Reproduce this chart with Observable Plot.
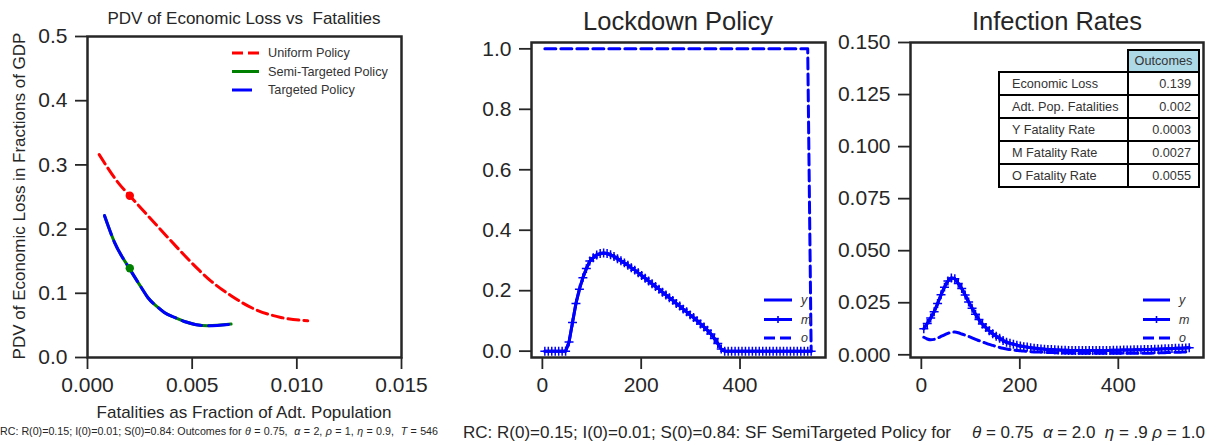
<!DOCTYPE html>
<html><head><meta charset="utf-8">
<script src="https://cdn.jsdelivr.net/npm/d3@7"></script>
<script src="https://cdn.jsdelivr.net/npm/@observablehq/plot@0.6"></script>
<style>
body{margin:0;background:#fff;}
#root{position:relative;width:1229px;height:445px;overflow:hidden;font-family:"Liberation Sans",Arial,sans-serif;color:#262626;background:#fff;}
.abs{position:absolute;white-space:pre;line-height:1;}
.c{transform:translate(-50%,-50%);}
#tbl{position:absolute;left:998px;top:49px;border-collapse:collapse;font-size:12.7px;color:#333;}
#tbl td{height:21px;padding:0;box-sizing:border-box;white-space:nowrap;}
#tbl td.lab{border:2px solid #000;width:129px;padding-left:12px;text-align:left;}
#tbl td.val{border:2px solid #000;width:71px;padding-right:7px;text-align:right;}
#tbl td.hdr{border:2px solid #000;background:#add8e6;text-align:center;}
</style></head>
<body><div id="root"></div>
<script>
// ---------- Data ----------
// Panel 1: PDV of economic loss vs fatalities
const uniformFatalities = [0.00056, 0.00151, 0.00202, 0.00326, 0.00422, 0.00533, 0.0059, 0.00686, 0.00797, 0.00924, 0.01052];
const uniformLoss       = [0.316,   0.2705,  0.252,   0.2075,  0.1735,  0.136,   0.119,  0.0962,  0.0755,  0.0624,  0.0572];
const semiFatalities = [0.00081, 0.00129, 0.002,  0.00257, 0.00288, 0.00337, 0.00367, 0.00416, 0.00463, 0.00574, 0.00686];
const semiLoss       = [0.221,   0.1793,  0.1388, 0.109,   0.0935,  0.078,   0.0702,  0.0624,  0.0561,  0.0494,  0.052];
const targetedFatalities = [0.00081, 0.00129, 0.002,  0.00257, 0.00288, 0.00337, 0.00367, 0.00416, 0.00463, 0.00574, 0.00686];
const targetedLoss       = [0.221,   0.1793,  0.1388, 0.109,   0.0935,  0.078,   0.0702,  0.0624,  0.0561,  0.0494,  0.052];
const chosenUniform = [0.00202, 0.252];
const chosenSemi = [0.00202, 0.139];
const policyNames = ["Uniform Policy", "Semi-Targeted Policy", "Targeted Policy"];

// Panels 2 & 3: time series (days)
const days = [5,12,19,26,33,40,47,54,61,68,75,82,89,96,103,110,117,124,131,138,145,152,159,166,173,180,187,194,201,208,215,222,229,236,243,250,257,264,271,278,285,292,299,306,313,320,327,334,341,348,355,362,369,376,383,390,397,404,411,418,425,432,439,446,453,460,467,474,481,488,495,502,509,516,523,530,537,544];
const lockdownM = [0,0,0,0,0,0,0,0.03,0.095,0.158,0.205,0.243,0.273,0.298,0.309,0.318,0.323,0.325,0.323,0.319,0.313,0.306,0.299,0.292,0.284,0.276,0.268,0.259,0.250,0.241,0.232,0.223,0.214,0.205,0.195,0.186,0.177,0.168,0.158,0.149,0.139,0.130,0.120,0.111,0.101,0.090,0.080,0.069,0.057,0.042,0.025,0.007,0,0,0,0,0,0,0,0,0,0,0,0,0,0,0,0,0,0,0,0,0,0,0,0,0,0];
const lockdownY = [0,0,0,0,0,0,0,0.03,0.095,0.158,0.205,0.243,0.273,0.298,0.309,0.318,0.323,0.325,0.323,0.319,0.313,0.306,0.299,0.292,0.284,0.276,0.268,0.259,0.250,0.241,0.232,0.223,0.214,0.205,0.195,0.186,0.177,0.168,0.158,0.149,0.139,0.130,0.120,0.111,0.101,0.090,0.080,0.069,0.057,0.042,0.025,0.007,0,0,0,0,0,0,0,0,0,0,0,0,0,0,0,0,0,0,0,0,0,0,0,0,0,0];
const lockdownO = [1,1,1,1,1,1,1,1,1,1,1,1,1,1,1,1,1,1,1,1,1,1,1,1,1,1,1,1,1,1,1,1,1,1,1,1,1,1,1,1,1,1,1,1,1,1,1,1,1,1,1,1,1,1,1,1,1,1,1,1,1,1,1,1,1,1,1,1,1,1,1,1,1,1,1,1,1,0];
const infectM = [0.0125,0.0150,0.0177,0.0207,0.0246,0.0288,0.0325,0.0354,0.0369,0.0365,0.0343,0.0318,0.0287,0.0254,0.0224,0.0195,0.0169,0.0148,0.0131,0.0115,0.0101,0.0089,0.0079,0.0069,0.0060,0.0055,0.0051,0.0046,0.0042,0.0039,0.0037,0.0034,0.0032,0.0030,0.0028,0.0027,0.0026,0.0025,0.0024,0.0023,0.0022,0.0022,0.0021,0.0021,0.0021,0.0021,0.0021,0.0021,0.0021,0.0021,0.0021,0.0021,0.0021,0.0021,0.0021,0.0022,0.0022,0.0022,0.0023,0.0023,0.0023,0.0024,0.0024,0.0024,0.0025,0.0025,0.0026,0.0027,0.0027,0.0028,0.0029,0.0029,0.0030,0.0031,0.0032,0.0032,0.0033,0.0034];
const infectY = [0.0125,0.0150,0.0177,0.0207,0.0246,0.0288,0.0325,0.0354,0.0369,0.0365,0.0343,0.0318,0.0287,0.0254,0.0224,0.0195,0.0169,0.0148,0.0131,0.0115,0.0101,0.0089,0.0079,0.0069,0.0060,0.0055,0.0051,0.0046,0.0042,0.0039,0.0037,0.0034,0.0032,0.0030,0.0028,0.0027,0.0026,0.0025,0.0024,0.0023,0.0022,0.0022,0.0021,0.0021,0.0021,0.0021,0.0021,0.0021,0.0021,0.0021,0.0021,0.0021,0.0021,0.0021,0.0021,0.0022,0.0022,0.0022,0.0023,0.0023,0.0023,0.0024,0.0024,0.0024,0.0025,0.0025,0.0026,0.0027,0.0027,0.0028,0.0029,0.0029,0.0030,0.0031,0.0032,0.0032,0.0033,0.0034];
const infectO = [0.0084,0.0076,0.0072,0.0074,0.0080,0.0088,0.0096,0.0103,0.0108,0.0109,0.0106,0.0100,0.0094,0.0088,0.0081,0.0074,0.0068,0.0062,0.0056,0.0050,0.0045,0.0040,0.0035,0.0031,0.0028,0.0025,0.0023,0.0021,0.0019,0.0018,0.0016,0.0015,0.0014,0.0013,0.0013,0.0012,0.0011,0.0011,0.0010,0.0010,0.0009,0.0009,0.0009,0.0008,0.0008,0.0008,0.0008,0.0008,0.0008,0.0008,0.0008,0.0008,0.0008,0.0008,0.0008,0.0008,0.0008,0.0008,0.0008,0.0008,0.0008,0.0008,0.0008,0.0008,0.0008,0.0008,0.0008,0.0009,0.0009,0.0010,0.0010,0.0011,0.0011,0.0012,0.0012,0.0013,0.0013,0.0014];
const seriesNames = ["y", "m", "o"];

// Table
const tableLabels = ["Economic Loss", "Adt. Pop. Fatalities", "Y Fatality Rate", "M Fatality Rate", "O Fatality Rate"];
const tableValues = ["0.139", "0.002", "0.0003", "0.0027", "0.0055"];
const tableHeader = "Outcomes";

// Ticks
const p1XTicks = [0, 0.005, 0.010, 0.015];
const p1YTicks = [0, 0.1, 0.2, 0.3, 0.4, 0.5];
const tXTicks = [0, 200, 400];
const lockYTicks = [0, 0.2, 0.4, 0.6, 0.8, 1.0];
const infYTicks = [0, 0.025, 0.05, 0.075, 0.1, 0.125, 0.15];

// ---------- Drawing ----------
const root = document.getElementById("root");
const INK = "#262626";
const BLUE = "#0000ff";
const FONT = '"Liberation Sans", Arial, sans-serif';

function place(svg, left) {
  svg.style.position = "absolute";
  svg.style.left = left + "px";
  svg.style.top = "0px";
  root.appendChild(svg);
}
function axes(xTicks, xFmt, yTicks, yFmt) {
  return [
    Plot.axisX({ticks: xTicks, tickFormat: xFmt, tickSize: 12, tickPadding: 8, strokeWidth: 1.8, stroke: INK, fill: INK, fontSize: 21, label: null}),
    Plot.axisY({ticks: yTicks, tickFormat: yFmt, tickSize: 12, tickPadding: 8, strokeWidth: 1.8, stroke: INK, fill: INK, fontSize: 21, label: null})
  ];
}
const baseStyle = {fontFamily: FONT, fontSize: "21px", color: INK, background: "none", overflow: "visible"};

// Panel 1
const uni = uniformFatalities.map((f, i) => ({f, l: uniformLoss[i]}));
const semi = semiFatalities.map((f, i) => ({f, l: semiLoss[i]}));
const targ = targetedFatalities.map((f, i) => ({f, l: targetedLoss[i]}));
const p1 = Plot.plot({
  width: 440, height: 445, marginLeft: 87, marginRight: 39, marginTop: 36, marginBottom: 88,
  x: {domain: [0, 0.015]}, y: {domain: [0, 0.5]},
  style: baseStyle,
  marks: [
    ...axes(p1XTicks, d3.format(".3f"), p1YTicks, d3.format(".1f")),
    Plot.line(uni, {x: "f", y: "l", stroke: "#ff0000", strokeWidth: 3, strokeDasharray: "11,5", curve: "monotone-x"}),
    Plot.line(semi, {x: "f", y: "l", stroke: "#008000", strokeWidth: 3, curve: "monotone-x"}),
    Plot.line(targ, {x: "f", y: "l", stroke: BLUE, strokeWidth: 3, strokeDasharray: "20,7", curve: "monotone-x"}),
    Plot.dot([chosenUniform], {x: d => d[0], y: d => d[1], r: 4.2, fill: "#ff0000"}),
    Plot.dot([chosenSemi], {x: d => d[0], y: d => d[1], r: 4.2, fill: "#008000"}),
    Plot.frame({stroke: INK, strokeWidth: 2.5})
  ]
});
place(p1, 0);

// Panel 2
const lock = days.map((t, i) => ({t, y: lockdownY[i], m: lockdownM[i], o: lockdownO[i]}));
const p2 = Plot.plot({
  width: 380, height: 445, marginLeft: 71, marginRight: 15, marginTop: 42, marginBottom: 88,
  x: {domain: [-22, 573]}, y: {domain: [-0.021, 1.021]},
  style: baseStyle,
  marks: [
    ...axes(tXTicks, d3.format("d"), lockYTicks, d3.format(".1f")),
    Plot.line(lock, {x: "t", y: "y", stroke: BLUE, strokeWidth: 3}),
    Plot.line(lock, {x: "t", y: "m", stroke: BLUE, strokeWidth: 3}),
    Plot.dot(lock, {x: "t", y: "m", symbol: "plus", r: 3, stroke: BLUE, strokeWidth: 1.5}),
    Plot.line(lock, {x: "t", y: "o", stroke: BLUE, strokeWidth: 3, strokeDasharray: "11,5"}),
    Plot.frame({stroke: INK, strokeWidth: 2.5})
  ]
});
place(p2, 460);

// Panel 3
const inf = days.map((t, i) => ({t, y: infectY[i], m: infectM[i], o: infectO[i]}));
const p3 = Plot.plot({
  width: 389, height: 445, marginLeft: 70, marginRight: 26, marginTop: 42, marginBottom: 88,
  x: {domain: [-22, 573]}, y: {domain: [-0.0013, 0.15]},
  style: baseStyle,
  marks: [
    ...axes(tXTicks, d3.format("d"), infYTicks, d3.format(".3f")),
    Plot.line(inf, {x: "t", y: "y", stroke: BLUE, strokeWidth: 3, curve: "monotone-x"}),
    Plot.line(inf, {x: "t", y: "m", stroke: BLUE, strokeWidth: 3, curve: "monotone-x"}),
    Plot.dot(inf, {x: "t", y: "m", symbol: "plus", r: 3, stroke: BLUE, strokeWidth: 1.5}),
    Plot.line(inf, {x: "t", y: "o", stroke: BLUE, strokeWidth: 3, strokeDasharray: "11,5", curve: "monotone-x"}),
    Plot.frame({stroke: INK, strokeWidth: 2.5})
  ]
});
place(p3, 840);

// ---------- Text ----------
function text(html, x, y, size, extra = "") {
  const d = document.createElement("div");
  d.className = "abs c";
  d.style.left = x + "px"; d.style.top = y + "px"; d.style.fontSize = size + "px";
  if (extra) d.style.cssText += extra;
  d.innerHTML = html;
  root.appendChild(d);
  return d;
}
function fitSpaces(el, target) {
  const w = el.getBoundingClientRect().width;
  const n = (el.textContent.match(/ /g) || []).length;
  if (n) el.style.wordSpacing = ((target - w) / n) + "px";
}
text("PDV of Economic Loss vs  Fatalities", 244, 18, 17);
text("Fatalities as Fraction of Adt. Population", 244, 412, 17);
text("PDV of Economic Loss in Fractions of GDP", 19, 196, 17, "transform:translate(-50%,-50%) rotate(-90deg);");
text("Lockdown Policy", 678, 22, 25.5);
text("Infection Rates", 1057, 22, 25.5);
text("RC: R(0)=0.15; I(0)=0.01; S(0)=0.84: Outcomes for", 0, 431, 10.7, "transform:translate(0,-50%);");
const math1 = text('<i>θ</i> = 0.75,  <i>α</i> = 2, <i>ρ</i> = 1, <i>η</i> = 0.9,  <i>T</i> = 546', 245, 431, 10.7, "transform:translate(0,-50%);");
fitSpaces(math1, 193);
text("RC: R(0)=0.15; I(0)=0.01; S(0)=0.84: SF SemiTargeted Policy for", 463, 432, 17, "transform:translate(0,-50%);");
const math2 = text('<i>θ</i> = 0.75  <i>α</i> = 2.0  <i>η</i> = .9 <i>ρ</i> = 1.0', 972, 432, 17, "transform:translate(0,-50%);");
fitSpaces(math2, 233);

// ---------- Legends ----------
const NS = "http://www.w3.org/2000/svg";
function legend(left, top, items, opts) {
  const svg = document.createElementNS(NS, "svg");
  svg.setAttribute("width", opts.w); svg.setAttribute("height", opts.h);
  svg.style.position = "absolute"; svg.style.left = left + "px"; svg.style.top = top + "px"; svg.style.overflow = "visible";
  items.forEach((it, i) => {
    const y = opts.ys[i];
    const ln = document.createElementNS(NS, "line");
    ln.setAttribute("x1", opts.x1); ln.setAttribute("x2", opts.x2);
    ln.setAttribute("y1", y); ln.setAttribute("y2", y);
    ln.setAttribute("stroke", it.color); ln.setAttribute("stroke-width", 3);
    if (it.dash) ln.setAttribute("stroke-dasharray", it.dash);
    svg.appendChild(ln);
    if (it.plus) {
      const cx = (opts.x1 + opts.x2) / 2;
      const p = document.createElementNS(NS, "path");
      p.setAttribute("d", `M${cx - 3.5},${y}H${cx + 3.5}M${cx},${y - 3.5}V${y + 3.5}`);
      p.setAttribute("stroke", it.color); p.setAttribute("stroke-width", 1.6);
      svg.appendChild(p);
    }
    const t = document.createElementNS(NS, "text");
    t.setAttribute("x", opts.tx); t.setAttribute("y", y);
    t.setAttribute("dy", "0.35em");
    t.setAttribute("font-family", FONT); t.setAttribute("font-size", opts.fs);
    t.setAttribute("fill", "#333");
    if (opts.italic) t.setAttribute("font-style", "italic");
    t.textContent = it.label;
    svg.appendChild(t);
  });
  root.appendChild(svg);
}
legend(225, 40, [
  {label: policyNames[0], color: "#ff0000", dash: "11,5"},
  {label: policyNames[1], color: "#008000"},
  {label: policyNames[2], color: BLUE, dash: "20,7"}
], {w: 190, h: 60, ys: [13, 31.5, 50], x1: 7, x2: 34, tx: 43, fs: 12.7});
const tsItems = [
  {label: seriesNames[0], color: BLUE},
  {label: seriesNames[1], color: BLUE, plus: true},
  {label: seriesNames[2], color: BLUE, dash: "11,5"}
];
legend(760, 290, tsItems, {w: 60, h: 60, ys: [10, 29.5, 48], x1: 4, x2: 32, tx: 41, fs: 12.5, italic: true});
legend(1139, 290, tsItems, {w: 60, h: 60, ys: [10, 29.5, 48], x1: 4, x2: 31, tx: 40, fs: 12.5, italic: true});

// ---------- Table ----------
const tbl = document.createElement("table");
tbl.id = "tbl";
const hr = tbl.insertRow();
hr.insertCell().style.border = "none";
const hc = hr.insertCell(); hc.className = "hdr"; hc.textContent = tableHeader;
tableLabels.forEach((lab, i) => {
  const r = tbl.insertRow();
  const a = r.insertCell(); a.className = "lab"; a.textContent = lab;
  const b = r.insertCell(); b.className = "val"; b.textContent = tableValues[i];
  r.cells[0].style.height = "23px"; r.cells[1].style.height = "23px";
});
hr.cells[1].style.height = "22px";
root.appendChild(tbl);
</script>
</body></html>
